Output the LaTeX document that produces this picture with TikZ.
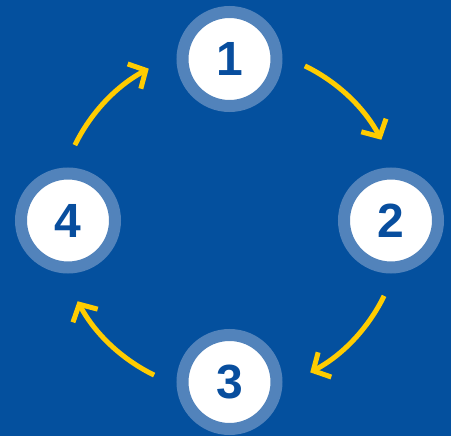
\documentclass[tikz,border=0pt]{standalone}
\usepackage{fontspec}
\setmainfont{Liberation Sans}
\usetikzlibrary{arrows.meta}
\definecolor{bgblue}{RGB}{4,80,158}
\definecolor{ringblue}{RGB}{82,131,187}
\definecolor{numblue}{RGB}{8,78,158}
\definecolor{arrowyellow}{RGB}{255,204,0}
\begin{document}
\begin{tikzpicture}
[x=1pt,y=1pt,>={Straight Barb[length=13pt,width=28pt]},
num/.style = {circle, draw=ringblue, line width=12pt, fill=white, minimum size=94pt, inner sep=0pt, text=numblue, font=\fontsize{48}{50}\selectfont\bfseries},
cyc/.style = {->, draw=arrowyellow, line width=5pt},]
\def\rad{161.5}
\def\arad{172}
\fill[bgblue] (-229.5,-215.5) rectangle (221.5,220.5);
\node (n1) at (90:\rad)[num] {1};
\node (n2) at (0:\rad)[num] {2};
\node (n3) at (270:\rad)[num] {3};
\node (n4) at (180:\rad)[num] {4};
\coordinate (t1) at (64:\arad);
\coordinate (t2) at (-26:\arad);
\coordinate (t3) at (-116:\arad);
\coordinate (t4) at (154:\arad);
\draw[cyc] (t1) arc (64:28:\arad);
\draw[cyc] (t2) arc (-26:-62:\arad);
\draw[cyc] (t3) arc (-116:-152:\arad);
\draw[cyc] (t4) arc (154:118:\arad);

\end{tikzpicture}
\end{document}
